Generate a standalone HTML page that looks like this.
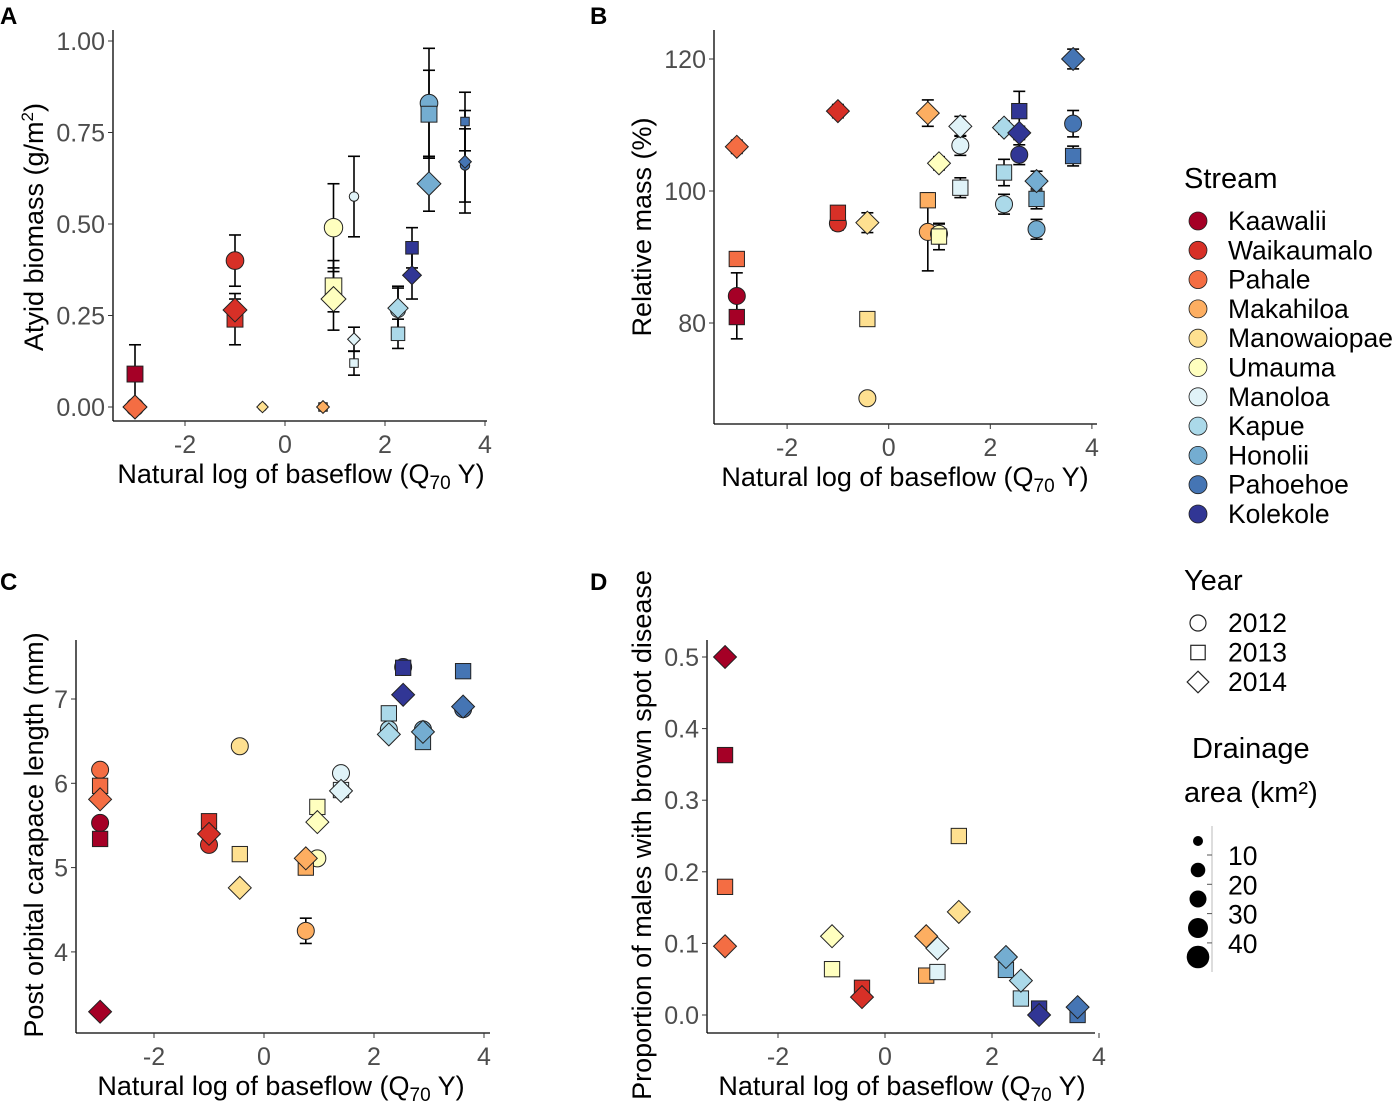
<!DOCTYPE html>
<html><head><meta charset="utf-8"><style>
html,body{margin:0;padding:0;background:#fff}
svg text{font-family:"Liberation Sans",Arial,sans-serif}
</style></head><body>
<svg id="fig" width="1399" height="1106" viewBox="0 0 1399 1106" xmlns="http://www.w3.org/2000/svg"></svg>
<script>
const streams=["Kaawalii","Waikaumalo","Pahale","Makahiloa","Manowaiopae","Umauma","Manoloa","Kapue","Honolii","Pahoehoe","Kolekole"];
const colors=["#a50026","#d73027","#f46d43","#fdae61","#fee090","#ffffbf","#e0f3f8","#abd9e9","#74add1","#4575b4","#313695"];
const years=["2012","2013","2014"];
const drainage=[40,40,40,5,3,45,5,25,40,5,20];
const sizeLegend=[10,20,30,40];

// Panel A
const aStream=[0,0,0,2,1,1,1,4,4,3,3,5,5,5,6,6,6,7,7,7,10,10,8,8,8,9,9,9];
const aYear=[0,1,2,2,0,1,2,0,2,1,2,0,1,2,0,1,2,0,1,2,1,2,0,1,2,0,1,2];
const aX=[-3,-3,-3,-3,-1,-1,-1,-0.45,-0.45,0.76,0.76,0.97,0.97,0.97,1.38,1.38,1.38,2.26,2.26,2.26,2.54,2.54,2.88,2.88,2.88,3.6,3.6,3.6];
const aVal=[0,0.09,0,0,0.40,0.24,0.265,0,0,0,0,0.49,0.33,0.295,0.575,0.12,0.185,0.265,0.20,0.27,0.435,0.36,0.83,0.80,0.61,0.66,0.78,0.67];
const aErr=[0,0.08,0,0,0.07,0.07,0.03,0,0,0,0,0.12,0.07,0.085,0.11,0.033,0.033,0.06,0.04,0.06,0.055,0.065,0.15,0.12,0.075,0.10,0.08,0.14];
const aTicksY=["0.00","0.25","0.50","0.75","1.00"];
const xTicks=["-2","0","2","4"];

// Panel B
const bStream=[2,2,0,0,1,1,1,4,4,4,3,3,3,5,5,5,6,6,6,7,7,7,10,10,10,8,8,8,9,9,9];
const bYear=[2,1,0,1,2,1,0,2,1,0,2,1,0,2,1,0,2,0,1,2,1,0,1,2,0,2,1,0,2,0,1];
const bX=[-2.99,-2.99,-2.99,-2.99,-1,-1,-1,-0.42,-0.42,-0.42,0.77,0.77,0.77,0.99,0.99,0.99,1.41,1.41,1.41,2.27,2.27,2.27,2.57,2.57,2.57,2.91,2.91,2.91,3.63,3.63,3.63];
const bVal=[106.7,89.7,84.1,80.9,112.1,96.7,95.1,95.2,80.6,68.6,111.8,98.6,93.8,104.2,93.1,93.5,109.8,106.9,100.5,109.6,102.8,98.0,112.1,108.8,105.5,101.5,98.8,94.2,120,110.2,105.3];
const bErr=[1,0,3.5,3.3,1,1,1,1.5,0,0,2,1,5.9,1,2,1.5,1.5,1.5,1.5,1,2,1.5,3,1,1.5,1.5,1.5,1.5,1.5,2,1.5];
const bTicksY=["80","100","120"];

// Panel C
const cStream=[2,2,2,0,0,0,1,1,1,4,4,4,3,3,3,5,5,5,6,6,6,7,7,7,10,10,10,8,8,8,9,9,9];
const cYear=[0,1,2,0,1,2,1,2,0,0,1,2,2,1,0,1,2,0,0,1,2,1,0,2,0,1,2,0,2,1,1,0,2];
const cX=[-2.98,-2.98,-2.98,-2.98,-2.98,-2.98,-1,-1,-1,-0.44,-0.44,-0.44,0.76,0.76,0.76,0.97,0.97,0.97,1.4,1.4,1.4,2.27,2.27,2.27,2.53,2.53,2.53,2.89,2.89,2.89,3.62,3.62,3.62];
const cVal=[6.16,5.97,5.81,5.53,5.34,3.29,5.55,5.40,5.27,6.44,5.16,4.76,5.11,5.0,4.25,5.72,5.54,5.11,6.12,5.92,5.91,6.83,6.64,6.58,7.38,7.37,7.05,6.64,6.61,6.49,7.33,6.88,6.91];
const cErr=[0,0,0,0,0,0,0,0,0,0,0,0,0,0,0.15,0,0,0,0,0,0,0,0,0,0.05,0,0.05,0,0,0,0,0,0];
const cTicksY=["4","5","6","7"];

// Panel D
const dStream=[0,0,2,2,5,5,1,1,3,3,6,6,4,4,8,8,7,7,10,10,9,9];
const dYear=[2,1,1,2,2,1,1,2,2,1,2,1,1,2,2,1,2,1,1,2,1,2];
const dX=[-2.99,-2.99,-2.99,-2.99,-0.99,-0.99,-0.43,-0.43,0.77,0.77,0.98,0.98,1.38,1.38,2.26,2.26,2.54,2.54,2.88,2.88,3.6,3.6];
const dVal=[0.50,0.363,0.179,0.096,0.110,0.064,0.038,0.025,0.11,0.055,0.093,0.060,0.25,0.144,0.081,0.063,0.048,0.023,0.009,0.0,0.0,0.011];
const dTicksY=["0.0","0.1","0.2","0.3","0.4","0.5"];

const NS="http://www.w3.org/2000/svg";
const svg=document.getElementById('fig');
function el(tag,attrs,parent){const e=document.createElementNS(NS,tag);for(const k in attrs)e.setAttribute(k,attrs[k]);(parent||svg).appendChild(e);return e;}
function txt(s,x,y,size,anchor,fill,parent){const t=el('text',{x:x,y:y,'font-size':size,'text-anchor':anchor||'start',fill:fill||'#000'},parent);t.textContent=s;return t;}
function shape(g,yr,cx,cy,r,fill){
  let e;
  if(yr===0){e=el('circle',{cx:cx,cy:cy,r:r,fill:fill,stroke:'#222','stroke-width':1},g);}
  else if(yr===1){const s=r*1.8;e=el('rect',{x:cx-s/2,y:cy-s/2,width:s,height:s,fill:fill,stroke:'#222','stroke-width':1},g);}
  else{const d=r*1.35;e=el('polygon',{points:`${cx},${cy-d} ${cx+d},${cy} ${cx},${cy+d} ${cx-d},${cy}`,fill:fill,stroke:'#222','stroke-width':1},g);}
  return e;
}
function panel(o){
  const g=el('g',{});
  
  
  const sx=v=>o.x0+o.xs*v, sy=v=>o.y0-o.ys*(v-o.yb);
  el('line',{x1:o.L,y1:o.T,x2:o.L,y2:o.B,stroke:'#000','stroke-width':1.3},g);
  el('line',{x1:o.L,y1:o.B,x2:o.R,y2:o.B,stroke:'#000','stroke-width':1.3},g);
  o.yt.forEach(t=>{const y=sy(parseFloat(t));el('line',{x1:o.L-5,y1:y,x2:o.L,y2:y,stroke:'#333'},g);
    const tt=txt(t,o.L-8,y+9,25,'end','#4d4d4d',g);});
  xTicks.forEach(t=>{const x=sx(parseFloat(t));el('line',{x1:x,y1:o.B,x2:x,y2:o.B+5,stroke:'#333'},g);
    const tt=txt(t,x,o.B+32,25,'middle','#4d4d4d',g);});
  const xt=el('text',{x:o.xtx,y:o.B+62,'font-size':27,'text-anchor':'middle'},g);
  
  
  xt.innerHTML='Natural log of baseflow (Q<tspan font-size="19" dy="6">70</tspan><tspan dy="-6"> Y)</tspan>';
  const yt=el('text',{x:0,y:0,'font-size':27,'text-anchor':'middle',transform:`translate(${o.ytx},${o.yty}) rotate(-90)`},g);
  
  
  yt.innerHTML=o.ytitle;
  const lt=txt(o.letter,o.lx,o.ly,24,'start','#000',g);lt.setAttribute('font-weight','bold');
  
  
  if(o.err){o.val.forEach((v,i)=>{const e=o.err[i];if(!e)return;const x=sx(o.xv[i]);const y1=sy(v+e),y2=sy(Math.max(v-e,o.errMin));
    el('line',{x1:x,y1:y1,x2:x,y2:y2,stroke:'#000','stroke-width':1.6},g);
    el('line',{x1:x-6,y1:y1,x2:x+6,y2:y1,stroke:'#000','stroke-width':1.6},g);
    el('line',{x1:x-6,y1:y2,x2:x+6,y2:y2,stroke:'#000','stroke-width':1.6},g);});}
  [0,1,2].forEach(yr=>{o.val.forEach((v,i)=>{if(o.yr[i]!==yr)return;const r=o.rf?o.rf(o.st[i]):8.5;
    const m=shape(g,yr,sx(o.xv[i]),sy(v),r,colors[o.st[i]]);
    
    });});
}
panel({name:'panel-a',L:113,R:487,T:30,B:421,x0:285,xs:50,y0:407,ys:366,yb:0,yt:aTicksY,xv:aX,val:aVal,err:aErr,errMin:0.005,st:aStream,yr:aYear,
  rf:s=>2.5+Math.sqrt(drainage[s]),xtx:301,ytx:43,yty:227,ytitle:'Atyid biomass (g/m<tspan font-size="17" dy="-10">2</tspan><tspan dy="10">)</tspan>',letter:'A',lx:0,ly:24});
panel({name:'panel-b',L:714,R:1097,T:30,B:424,x0:888.7,xs:50.8,y0:191,ys:6.6,yb:100,yt:bTicksY,xv:bX,val:bVal,err:bErr,errMin:-1e9,st:bStream,yr:bYear,
  xtx:905,ytx:651,yty:227,ytitle:'Relative mass (%)',letter:'B',lx:590,ly:24});
panel({name:'panel-c',L:76,R:490,T:640,B:1033,x0:264,xs:55,y0:699,ys:84.3,yb:7,yt:cTicksY,xv:cX,val:cVal,err:cErr,errMin:-1e9,st:cStream,yr:cYear,
  xtx:281,ytx:43,yty:835,ytitle:'Post orbital carapace length (mm)',letter:'C',lx:0,ly:590});
panel({name:'panel-d',L:707,R:1095,T:640,B:1033,x0:885,xs:53.5,y0:1015,ys:716,yb:0,yt:dTicksY,xv:dX,val:dVal,err:null,st:dStream,yr:dYear,
  xtx:902,ytx:651,yty:835,ytitle:'Proportion of males with brown spot disease',letter:'D',lx:590,ly:590});

const lg=el('g',{});


txt('Stream',1184,188,29,'start','#000',lg);
streams.forEach((s,i)=>{const y=221+29.3*i;
  const c=el('circle',{cx:1198,cy:y,r:9,fill:colors[i],stroke:'#222','stroke-width':0.8},lg);
  
  
  txt(s,1228,y+9,26.5,'start','#000',lg);});
txt('Year',1184,590,29,'start','#000',lg);
years.forEach((s,i)=>{const y=623+29.5*i;
  const m=shape(lg,i,1198,y,8,'#fff');m.setAttribute('stroke-width',1.2);
  
  
  txt(s,1228,y+9,26.5,'start','#000',lg);});
txt('Drainage',1192,758,29,'start','#000',lg);
txt('area (km²)',1184,802,29,'start','#000',lg);
el('line',{x1:1212,y1:826,x2:1212,y2:972,stroke:'#bbb','stroke-width':1},lg);
[5,7.3,8.5,10,11.3].forEach((r,i)=>{el('circle',{cx:1198,cy:841+29*i,r:r,fill:'#000'},lg);});
sizeLegend.forEach((s,i)=>{const y=855+29.3*i;el('line',{x1:1207,y1:y,x2:1212,y2:y,stroke:'#555'},lg);
  txt(String(s),1228,y+10,26.5,'start','#000',lg);});
</script>
</body></html>
